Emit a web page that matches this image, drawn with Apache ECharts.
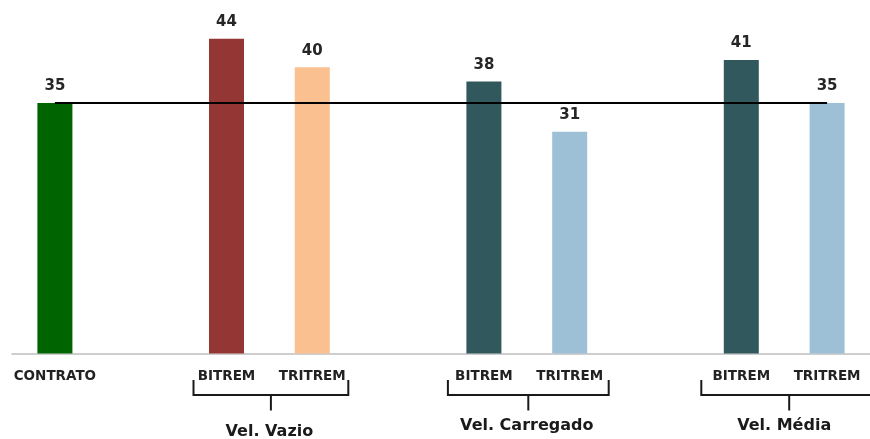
<!DOCTYPE html>
<html>
<head>
<meta charset="utf-8">
<title>Velocidade por composição</title>
<script src="https://cdn.jsdelivr.net/npm/echarts@6/dist/echarts.min.js"></script>
<style>
  html, body { margin: 0; padding: 0; background: #ffffff; }
  #chart { width: 870px; height: 439px; }
</style>
</head>
<body>
<div id="chart"></div>
<script>
// Categories along the x axis (empty slots separate the groups)
const categories = ['CONTRATO', '', 'BITREM', 'TRITREM', '', 'BITREM', 'TRITREM', '', 'BITREM', 'TRITREM'];
// Speed values per category (null = gap)
const values = [35, null, 44, 40, null, 38, 31, null, 41, 35];
// Contract reference value drawn as a horizontal line
const contractValue = 35;
// Group captions and the category indices they span
const groupNames = ['Vel. Vazio', 'Vel. Carregado', 'Vel. Média'];
const groupSpans = [[2, 3], [5, 6], [8, 9]];

// Bar colours per category
const barColors = ['#006400', null, '#943634', '#FAC090', null, '#31595D', '#9DC0D7', null, '#31595D', '#9DC0D7'];

const FONT = 'DejaVu Sans';
const chart = echarts.init(document.getElementById('chart'), null, { renderer: 'canvas' });

const seriesData = values.map((v, i) => (v === null ? null : {
  value: v,
  itemStyle: { color: barColors[i] }
}));

chart.setOption({
  animation: false,
  backgroundColor: '#ffffff',
  grid: { left: 12, right: 0, top: 10, bottom: 85.5 },
  xAxis: {
    type: 'category',
    data: categories,
    axisTick: { show: false },
    axisLine: { lineStyle: { color: '#BFBFBF', width: 1.5 } },
    axisLabel: {
      interval: 0,
      margin: 16,
      fontFamily: FONT,
      fontSize: 13.5,
      fontWeight: 'bold',
      color: '#222222'
    }
  },
  yAxis: {
    type: 'value',
    min: 0,
    max: 48,
    show: false,
    splitLine: { show: false }
  },
  series: [{
    type: 'bar',
    barWidth: 35,
    data: seriesData,
    label: {
      show: true,
      position: 'top',
      distance: 9,
      fontFamily: FONT,
      fontSize: 15,
      fontWeight: 'bold',
      color: '#262626'
    },
    markLine: {
      silent: true,
      symbol: ['none', 'none'],
      label: { show: false },
      lineStyle: { color: '#000000', width: 2.2, type: 'solid' },
      data: [[
        { coord: [0, contractValue] },
        { coord: [categories.length - 1, contractValue] }
      ]]
    }
  }]
});

// Brackets under each group and their captions, placed from the axis scale
function drawBrackets() {
  const baseY = chart.convertToPixel({ gridIndex: 0 }, [0, 0])[1];
  const graphics = [];
  const stroke = { stroke: '#1A1A1A', lineWidth: 2, fill: null };
  // bracket reach beyond the outer bar centres (left, right) and caption drop
  const reach = [[33, 36], [36, 39], [40, 50]];
  const captionDrop = [78, 72.5, 72.5];
  groupSpans.forEach((span, g) => {
    const x1 = chart.convertToPixel({ xAxisIndex: 0 }, span[0]);
    const x2 = chart.convertToPixel({ xAxisIndex: 0 }, span[1]);
    const left = x1 - reach[g][0];
    const right = x2 + reach[g][1];
    const mid = (left + right) / 2;
    const yTop = baseY + 26.5;
    const yBar = baseY + 41.5;
    const yTick = baseY + 57;
    graphics.push({
      type: 'polyline',
      shape: { points: [[left, yTop], [left, yBar], [right, yBar], [right, yTop]] },
      style: stroke,
      silent: true
    });
    graphics.push({
      type: 'line',
      shape: { x1: mid, y1: yBar, x2: mid, y2: yTick },
      style: stroke,
      silent: true
    });
    graphics.push({
      type: 'text',
      x: (x1 + x2) / 2,
      y: baseY + captionDrop[g],
      style: {
        text: groupNames[g],
        fontFamily: FONT,
        fontSize: 16,
        fontWeight: 'bold',
        fill: '#1A1A1A',
        align: 'center',
        verticalAlign: 'middle'
      },
      silent: true
    });
  });
  chart.setOption({ graphic: graphics });
}
drawBrackets();
</script>
</body>
</html>
